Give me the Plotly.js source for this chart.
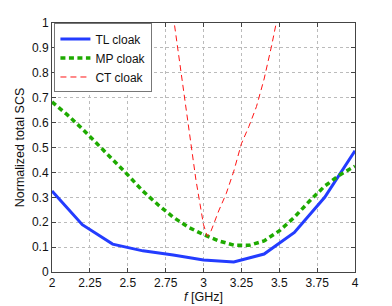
<!DOCTYPE html>
<html>
<head>
<meta charset="utf-8">
<script src="https://cdn.plot.ly/plotly-3.0.1.min.js"></script>
<style>html,body{margin:0;padding:0;background:#fff;}#chart{width:392px;height:306px;}</style>
</head>
<body>
<div id="chart"></div>
<script>
var tlFreq = [2.0, 2.2, 2.4, 2.6, 2.8, 3.0, 3.2, 3.4, 3.6, 3.8, 4.0];
var tlSCS  = [0.325, 0.19, 0.112, 0.085, 0.068, 0.048, 0.040, 0.072, 0.159, 0.300, 0.487];

var mpFreq = [2.0, 2.1, 2.2, 2.3, 2.4, 2.5, 2.6, 2.7, 2.8, 2.9, 3.0, 3.1, 3.2, 3.3, 3.4, 3.5, 3.6, 3.7, 3.8, 3.9, 4.0];
var mpSCS  = [0.683, 0.632, 0.575, 0.515, 0.452, 0.39, 0.325, 0.27, 0.22, 0.18, 0.15, 0.125, 0.108, 0.107, 0.125, 0.165, 0.22, 0.285, 0.345, 0.39, 0.425];

var ctFreq = [2.8, 2.85, 2.9, 2.95, 3.0, 3.025, 3.05, 3.1, 3.15, 3.2, 3.25, 3.3, 3.35, 3.4, 3.45, 3.5];
var ctSCS  = [1.03, 0.81, 0.6, 0.37, 0.19, 0.143, 0.165, 0.245, 0.315, 0.405, 0.515, 0.585, 0.665, 0.775, 0.91, 1.06];

var xTicks = [2, 2.25, 2.5, 2.75, 3, 3.25, 3.5, 3.75, 4];
var xTickText = ['2', '2.25', '2.5', '2.75', '3', '3.25', '3.5', '3.75', '4'];
var yTicks = [0, 0.1, 0.2, 0.3, 0.4, 0.5, 0.6, 0.7, 0.8, 0.9, 1];
var yTickText = ['0', '0.1', '0.2', '0.3', '0.4', '0.5', '0.6', '0.7', '0.8', '0.9', '1'];

var traces = [
  {x: tlFreq, y: tlSCS, name: 'TL cloak', mode: 'lines', type: 'scatter',
   line: {color: 'rgb(35,60,255)', width: 3}},
  {x: mpFreq, y: mpSCS, name: 'MP cloak', mode: 'lines', type: 'scatter',
   line: {color: 'rgb(30,170,0)', width: 3.5, dash: '5px,3.5px'}},
  {x: ctFreq, y: ctSCS, name: 'CT cloak', mode: 'lines', type: 'scatter',
   line: {color: 'rgb(255,20,20)', width: 1, dash: '6px,4px'}}
];

var axisCommon = {
  showline: true, linecolor: '#444', linewidth: 1, mirror: 'ticks',
  ticks: 'inside', ticklen: 4, tickcolor: '#444',
  showgrid: true, gridcolor: '#bbbbbb', griddash: 'dot', gridwidth: 1,
  zeroline: false, tickfont: {family: 'Liberation Sans, Arial, sans-serif', size: 12, color: '#111'}
};

var layout = {
  width: 392, height: 306,
  margin: {l: 52, r: 37, t: 23, b: 34},
  paper_bgcolor: '#fff', plot_bgcolor: '#fff',
  showlegend: true,
  font: {family: 'Liberation Sans, Arial, sans-serif', size: 12, color: '#111'},
  xaxis: Object.assign({}, axisCommon, {
    range: [2, 4], tickmode: 'array', tickvals: xTicks, ticktext: xTickText,
    title: {text: '<i>f</i> [GHz]', font: {size: 12.5, color: '#111'}, standoff: 2}
  }),
  yaxis: Object.assign({}, axisCommon, {
    range: [0, 1], tickmode: 'array', tickvals: yTicks, ticktext: yTickText,
    title: {text: 'Normalized total SCS', font: {size: 12.5, color: '#111'}, standoff: 4}
  }),
  legend: {
    x: 0.008, y: 0.998, xanchor: 'left', yanchor: 'top',
    bgcolor: '#fff', bordercolor: '#777', borderwidth: 1,
    font: {size: 12, color: '#111'}, tracegroupgap: 0, itemwidth: 30
  }
};

Plotly.newPlot('chart', traces, layout, {staticPlot: true, displayModeBar: false});
</script>
</body>
</html>
